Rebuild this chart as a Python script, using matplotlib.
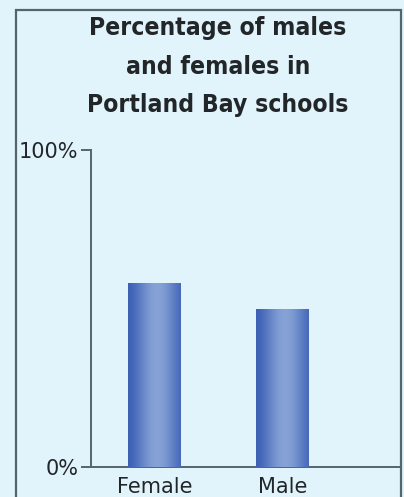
import numpy as np
import matplotlib
matplotlib.use("Agg")
import matplotlib.pyplot as plt
from matplotlib.patches import Rectangle

# Data
categories = ["Female", "Male"]
percentages = [58, 50]
y_ticks = [0, 100]
y_tick_labels = ["0%", "100%"]
title_lines = ["Percentage of males", "and females in", "Portland Bay schools"]

W, H = 404, 497
bg = "#e1f4fb"
frame_col = "#56656b"
text_col = "#232629"

fig = plt.figure(figsize=(W / 100, H / 100), dpi=100, facecolor=bg)

# Panel frame
fig.patches.append(Rectangle((16 / W, -0.05), (401 - 16) / W, 1.05 - 10 / H,
                             transform=fig.transFigure, fill=False,
                             edgecolor=frame_col, linewidth=1.6, zorder=0))

# Title
baselines = [35, 73.5, 112]
for line, yb in zip(title_lines, baselines):
    fig.text(218 / W, 1 - yb / H, line, ha="center", va="baseline",
             fontsize=17.7, fontweight="bold", fontstretch="condensed",
             family=["DejaVu Sans"], color=text_col)

ax = fig.add_axes([91 / W, 1 - 467 / H, (401 - 91) / W, (467 - 150) / H])
ax.set_facecolor("none")
x = np.arange(len(categories))

bar_w = 0.414
bars = ax.bar(x, percentages, width=bar_w, color="#4a6cbc", zorder=2)

# Cylinder-like horizontal shading on each bar
prof = np.linspace(-1, 1, 200)
shade = np.cos(np.clip(prof - 0.1, -1.2, 1.2) * np.pi / 2.4) ** 2
c_edge = np.array([0x3c, 0x5f, 0xb5]) / 255
c_mid = np.array([0x86, 0xa2, 0xd6]) / 255
grad = c_edge[None, :] + (c_mid - c_edge)[None, :] * shade[:, None]
grad = grad[None, :, :]
for b in bars:
    x0, y0 = b.get_x(), b.get_y()
    im = ax.imshow(grad, extent=(x0, x0 + b.get_width(), y0, y0 + b.get_height()),
                   aspect="auto", zorder=3, interpolation="bilinear")
    im.set_clip_path(b)
ax.set_xlim(-0.496, 1.926)
ax.set_ylim(0, 100)

for s in ["top", "right"]:
    ax.spines[s].set_visible(False)
for s in ["left", "bottom"]:
    ax.spines[s].set_color(frame_col)
    ax.spines[s].set_linewidth(1.4)

ax.set_yticks(y_ticks)
ax.set_yticklabels(y_tick_labels)
ax.set_xticks(x)
ax.set_xticklabels(categories)
ax.tick_params(axis="y", length=7, width=1.4, color=frame_col, pad=2,
               labelsize=15, labelcolor=text_col)
ax.tick_params(axis="x", length=0, pad=7, labelsize=15, labelcolor=text_col)

fig.savefig("out.png", dpi=100, facecolor=bg)
